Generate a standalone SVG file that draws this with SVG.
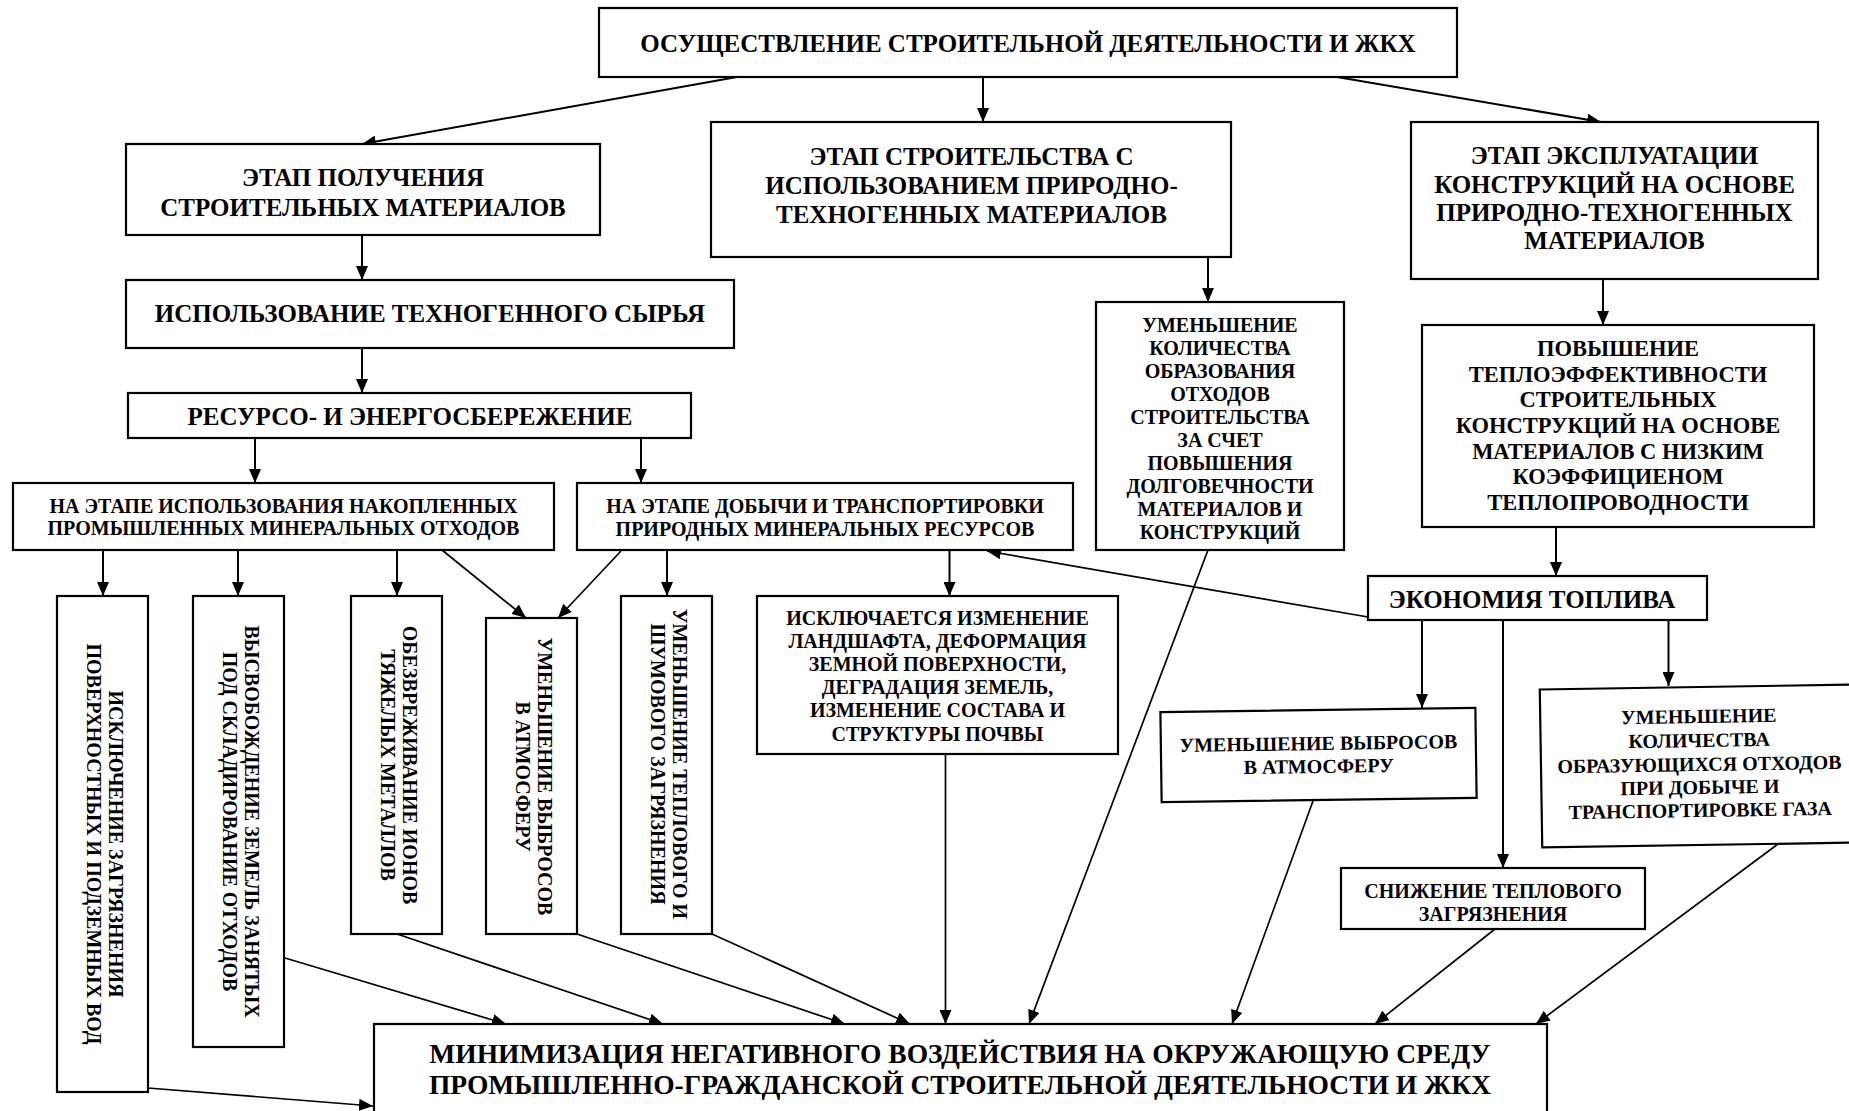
<svg xmlns="http://www.w3.org/2000/svg" width="1849" height="1111" viewBox="0 0 1849 1111">
<defs>
<marker id="ah" markerUnits="userSpaceOnUse" markerWidth="14" markerHeight="12" refX="14" refY="6" orient="auto">
<path d="M0,0 L14,6 L0,12 z" fill="#000"/>
</marker>
<style>
.box{fill:#fff;stroke:#000;stroke-width:2.2}
.c{fill:none;stroke:#000;stroke-width:2;marker-end:url(#ah)}
.c2{fill:none;stroke:#000;stroke-width:1.7;marker-end:url(#ah)}
text{font-family:"Liberation Serif","Times New Roman",serif;font-weight:bold;text-anchor:middle;fill:#000}
.f25{font-size:25px}
.f22{font-size:22.5px}
.f20{font-size:20px}
.f28{font-size:27.5px}
</style>
</defs>
<rect width="1849" height="1111" fill="#fff"/>
<g id="connectors">
<line class="c" x1="737" y1="77" x2="362" y2="144"/>
<line class="c" x1="983" y1="77" x2="983" y2="122"/>
<line class="c" x1="1337" y1="77" x2="1601" y2="122"/>
<line class="c" x1="362" y1="235" x2="362" y2="280"/>
<line class="c" x1="362" y1="348" x2="362" y2="393"/>
<line class="c" x1="255" y1="438" x2="255" y2="483"/>
<line class="c" x1="641" y1="438" x2="641" y2="483"/>
<line class="c" x1="103" y1="550" x2="103" y2="596"/>
<line class="c" x1="238" y1="550" x2="238" y2="596"/>
<line class="c" x1="397" y1="550" x2="397" y2="596"/>
<line class="c2" x1="442" y1="550" x2="526" y2="618"/>
<line class="c2" x1="621" y1="551" x2="558" y2="618"/>
<line class="c" x1="667" y1="550" x2="667" y2="596"/>
<line class="c" x1="949.5" y1="550" x2="949.5" y2="596"/>
<line class="c" x1="1208" y1="257" x2="1208" y2="302"/>
<line class="c" x1="1603" y1="279" x2="1603" y2="325"/>
<line class="c" x1="1556" y1="527" x2="1556" y2="576"/>
<line class="c2" x1="1368" y1="617" x2="987" y2="551"/>
<line class="c" x1="1422" y1="620" x2="1422" y2="708"/>
<line class="c" x1="1503" y1="620" x2="1503" y2="868"/>
<line class="c" x1="1668.5" y1="620" x2="1668.5" y2="686"/>
<line class="c2" x1="148" y1="1088" x2="373" y2="1106"/>
<line class="c2" x1="285" y1="958" x2="506" y2="1024"/>
<line class="c2" x1="397" y1="934" x2="663" y2="1024"/>
<line class="c2" x1="577" y1="934" x2="845" y2="1024"/>
<line class="c2" x1="712" y1="934" x2="910" y2="1024"/>
<line class="c2" x1="945.5" y1="754" x2="945.5" y2="1024"/>
<line class="c2" x1="1208" y1="550" x2="1029" y2="1024"/>
<line class="c2" x1="1313" y1="801" x2="1232" y2="1024"/>
<line class="c2" x1="1495" y1="929" x2="1375" y2="1024"/>
<line class="c2" x1="1778" y1="844" x2="1536" y2="1024"/>
</g>
<g id="n-top">
<rect class="box" x="599" y="8" width="858" height="69"/>
<text class="f25" x="1028" y="52">ОСУЩЕСТВЛЕНИЕ СТРОИТЕЛЬНОЙ ДЕЯТЕЛЬНОСТИ И ЖКХ</text>
</g>
<g id="n-poluchenie">
<rect class="box" x="126" y="144" width="474" height="91"/>
<text class="f25" x="363" y="186">ЭТАП ПОЛУЧЕНИЯ</text>
<text class="f25" x="363" y="216">СТРОИТЕЛЬНЫХ МАТЕРИАЛОВ</text>
</g>
<g id="n-syrie">
<rect class="box" x="126" y="280" width="608" height="68"/>
<text class="f25" x="430" y="322">ИСПОЛЬЗОВАНИЕ ТЕХНОГЕННОГО СЫРЬЯ</text>
</g>
<g id="n-resurso">
<rect class="box" x="128" y="393" width="563" height="45"/>
<text class="f25" x="410" y="425">РЕСУРСО- И ЭНЕРГОСБЕРЕЖЕНИЕ</text>
</g>
<g id="n-stroitelstvo">
<rect class="box" x="711" y="122" width="520" height="135"/>
<text class="f25" x="971.5" y="165">ЭТАП СТРОИТЕЛЬСТВА С</text>
<text class="f25" x="971.5" y="194">ИСПОЛЬЗОВАНИЕМ ПРИРОДНО-</text>
<text class="f25" x="971.5" y="223">ТЕХНОГЕННЫХ МАТЕРИАЛОВ</text>
</g>
<g id="n-ekspluatacia">
<rect class="box" x="1411" y="122" width="407" height="157"/>
<text class="f25" x="1614.5" y="164">ЭТАП ЭКСПЛУАТАЦИИ</text>
<text class="f25" x="1614.5" y="192.5">КОНСТРУКЦИЙ НА ОСНОВЕ</text>
<text class="f25" x="1614.5" y="220.5">ПРИРОДНО-ТЕХНОГЕННЫХ</text>
<text class="f25" x="1614.5" y="248.5">МАТЕРИАЛОВ</text>
</g>
<g id="n-umenshenie-othodov">
<rect class="box" x="1096" y="302" width="248" height="248"/>
<text class="f20" x="1220" y="332">УМЕНЬШЕНИЕ</text>
<text class="f20" x="1220" y="355">КОЛИЧЕСТВА</text>
<text class="f20" x="1220" y="378">ОБРАЗОВАНИЯ</text>
<text class="f20" x="1220" y="401">ОТХОДОВ</text>
<text class="f20" x="1220" y="424">СТРОИТЕЛЬСТВА</text>
<text class="f20" x="1220" y="447">ЗА СЧЕТ</text>
<text class="f20" x="1220" y="470">ПОВЫШЕНИЯ</text>
<text class="f20" x="1220" y="493">ДОЛГОВЕЧНОСТИ</text>
<text class="f20" x="1220" y="516">МАТЕРИАЛОВ И</text>
<text class="f20" x="1220" y="539">КОНСТРУКЦИЙ</text>
</g>
<g id="n-teploeffekt">
<rect class="box" x="1422" y="325" width="392" height="202"/>
<text class="f22" x="1618" y="356">ПОВЫШЕНИЕ</text>
<text class="f22" x="1618" y="381.7">ТЕПЛОЭФФЕКТИВНОСТИ</text>
<text class="f22" x="1618" y="407.3">СТРОИТЕЛЬНЫХ</text>
<text class="f22" x="1618" y="433">КОНСТРУКЦИЙ НА ОСНОВЕ</text>
<text class="f22" x="1618" y="458.7">МАТЕРИАЛОВ С НИЗКИМ</text>
<text class="f22" x="1618" y="484.3">КОЭФФИЦИЕНОМ</text>
<text class="f22" x="1618" y="510">ТЕПЛОПРОВОДНОСТИ</text>
</g>
<g id="n-nakoplennye">
<rect class="box" x="13" y="483" width="541" height="67"/>
<text class="f20" x="283.5" y="513">НА ЭТАПЕ ИСПОЛЬЗОВАНИЯ НАКОПЛЕННЫХ</text>
<text class="f20" x="283.5" y="535">ПРОМЫШЛЕННЫХ МИНЕРАЛЬНЫХ ОТХОДОВ</text>
</g>
<g id="n-dobycha">
<rect class="box" x="577" y="483" width="496" height="67"/>
<text class="f20" x="825" y="513">НА ЭТАПЕ ДОБЫЧИ И ТРАНСПОРТИРОВКИ</text>
<text class="f20" x="825" y="536">ПРИРОДНЫХ МИНЕРАЛЬНЫХ РЕСУРСОВ</text>
</g>
<g id="n-ekonomia">
<rect class="box" x="1368" y="576" width="339" height="44"/>
<text class="f25" x="1532" y="608">ЭКОНОМИЯ ТОПЛИВА</text>
</g>
<g id="n-v1">
<rect class="box" x="57" y="596" width="91" height="496"/>
<text class="f20" transform="translate(109,844) rotate(90)">ИСКЛЮЧЕНИЕ ЗАГРЯЗНЕНИЯ</text>
<text class="f20" transform="translate(86.5,844) rotate(90)">ПОВЕРХНОСТНЫХ И ПОДЗЕМНЫХ ВОД</text>
</g>
<g id="n-v2">
<rect class="box" x="193" y="596" width="91" height="451"/>
<text class="f20" transform="translate(245,821.5) rotate(90)">ВЫСВОБОЖДЕНИЕ ЗЕМЕЛЬ ЗАНЯТЫХ</text>
<text class="f20" transform="translate(222.5,821.5) rotate(90)">ПОД СКЛАДИРОВАНИЕ ОТХОДОВ</text>
</g>
<g id="n-v3">
<rect class="box" x="351" y="596" width="91" height="338"/>
<text class="f20" transform="translate(403,765) rotate(90)">ОБЕЗВРЕЖИВАНИЕ ИОНОВ</text>
<text class="f20" transform="translate(380.5,765) rotate(90)">ТЯЖЕЛЫХ МЕТАЛЛОВ</text>
</g>
<g id="n-v4">
<rect class="box" x="486" y="618" width="91" height="316"/>
<text class="f20" transform="translate(538,776.5) rotate(90)">УМЕНЬШЕНИЕ ВЫБРОСОВ</text>
<text class="f20" transform="translate(515.5,776.5) rotate(90)">В АТМОСФЕРУ</text>
</g>
<g id="n-v5">
<rect class="box" x="621" y="596" width="91" height="338"/>
<text class="f20" transform="translate(673,764) rotate(90)">УМЕНЬШЕНИЕ ТЕПЛОВОГО И</text>
<text class="f20" transform="translate(650.5,764) rotate(90)">ШУМОВОГО ЗАГРЯЗНЕНИЯ</text>
</g>
<g id="n-landshaft">
<rect class="box" x="757" y="596" width="361" height="158"/>
<text class="f20" x="937.5" y="624.5">ИСКЛЮЧАЕТСЯ ИЗМЕНЕНИЕ</text>
<text class="f20" x="937.5" y="647.7">ЛАНДШАФТА, ДЕФОРМАЦИЯ</text>
<text class="f20" x="937.5" y="670.9">ЗЕМНОЙ ПОВЕРХНОСТИ,</text>
<text class="f20" x="937.5" y="694.1">ДЕГРАДАЦИЯ ЗЕМЕЛЬ,</text>
<text class="f20" x="937.5" y="717.3">ИЗМЕНЕНИЕ СОСТАВА И</text>
<text class="f20" x="937.5" y="740.5">СТРУКТУРЫ ПОЧВЫ</text>
</g>
<g id="n-vybrosy" transform="rotate(-0.8 1318.5 755)">
<rect class="box" x="1161" y="710" width="315" height="90"/>
<text class="f20" x="1318.5" y="750">УМЕНЬШЕНИЕ ВЫБРОСОВ</text>
<text class="f20" x="1318.5" y="773">В АТМОСФЕРУ</text>
</g>
<g id="n-gaz" transform="rotate(-0.9 1699.5 766)">
<rect class="box" x="1541" y="687" width="317" height="158"/>
<text class="f20" x="1699.5" y="723">УМЕНЬШЕНИЕ</text>
<text class="f20" x="1699.5" y="747">КОЛИЧЕСТВА</text>
<text class="f20" x="1699.5" y="771">ОБРАЗУЮЩИХСЯ ОТХОДОВ</text>
<text class="f20" x="1699.5" y="794">ПРИ ДОБЫЧЕ И</text>
<text class="f20" x="1699.5" y="817">ТРАНСПОРТИРОВКЕ ГАЗА</text>
</g>
<g id="n-teplovoe">
<rect class="box" x="1341" y="868" width="304" height="61"/>
<text class="f20" x="1493" y="898">СНИЖЕНИЕ ТЕПЛОВОГО</text>
<text class="f20" x="1493" y="921">ЗАГРЯЗНЕНИЯ</text>
</g>
<g id="n-minimizacia">
<rect class="box" x="374" y="1024" width="1173" height="100"/>
<text class="f28" x="960" y="1063">МИНИМИЗАЦИЯ НЕГАТИВНОГО ВОЗДЕЙСТВИЯ НА ОКРУЖАЮЩУЮ СРЕДУ</text>
<text class="f28" x="960" y="1094">ПРОМЫШЛЕННО-ГРАЖДАНСКОЙ СТРОИТЕЛЬНОЙ ДЕЯТЕЛЬНОСТИ И ЖКХ</text>
</g>
</svg>
